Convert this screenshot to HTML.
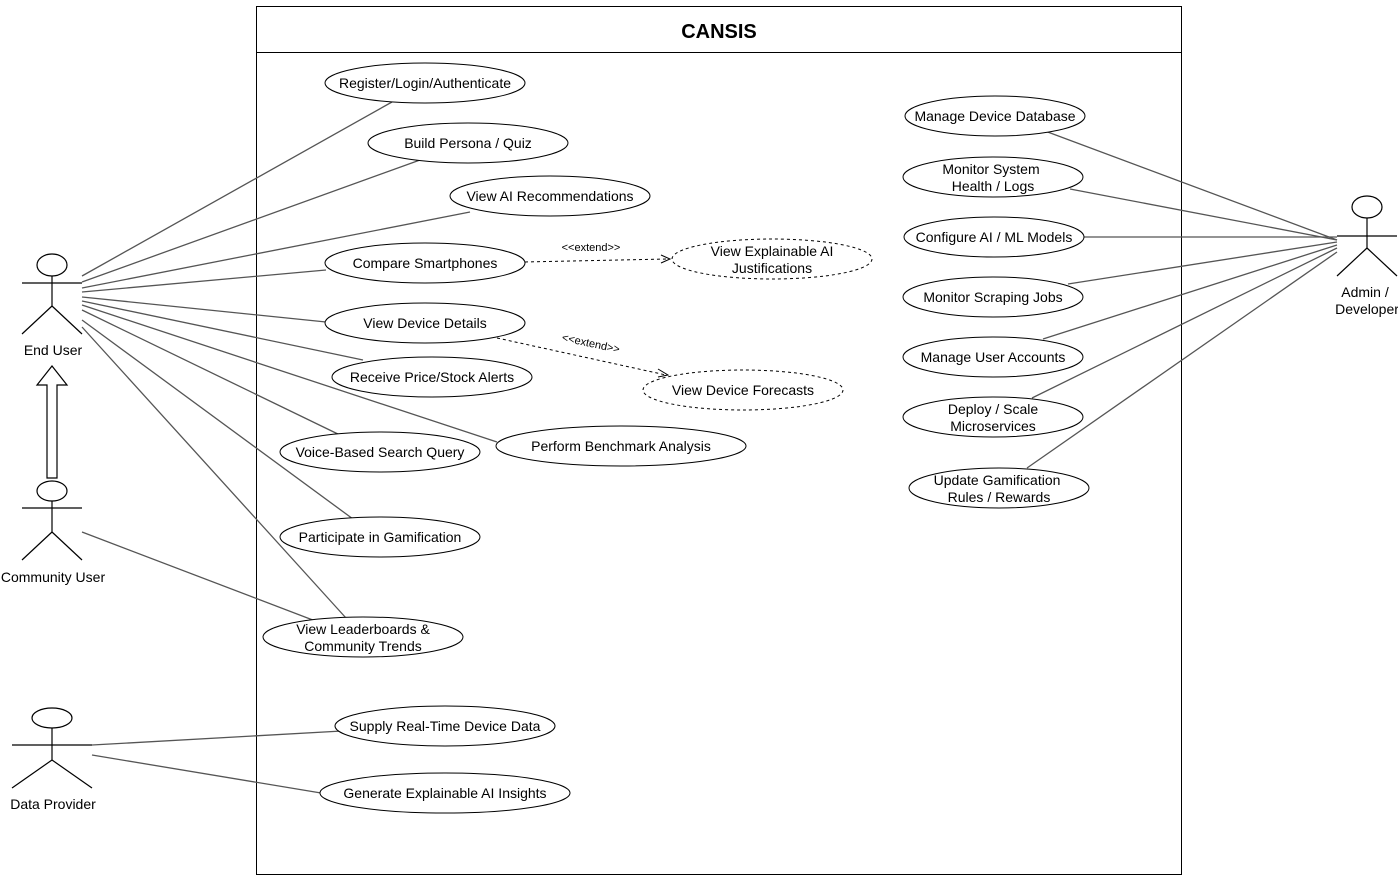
<!DOCTYPE html>
<html><head><meta charset="utf-8"><style>
html,body{margin:0;padding:0;background:#fff;}
svg{display:block;font-family:"Liberation Sans",Arial,sans-serif;}
</style></head><body>
<svg width="1398" height="876" viewBox="0 0 1398 876" xmlns="http://www.w3.org/2000/svg">
<rect x="0" y="0" width="1398" height="876" fill="#fff"/>
<rect x="256.5" y="6.5" width="925" height="868" fill="#fff" stroke="#000" stroke-width="1"/>
<line x1="256" y1="52.5" x2="1181" y2="52.5" stroke="#000"/>
<text x="719" y="38" font-size="20" font-weight="bold" text-anchor="middle">CANSIS</text>

<g stroke="#555" stroke-width="1.3" fill="none">
<line x1="82" y1="276" x2="392" y2="102"/>
<line x1="82" y1="282" x2="420" y2="160"/>
<line x1="82" y1="288" x2="470" y2="212"/>
<line x1="82" y1="292" x2="326" y2="270"/>
<line x1="82" y1="297" x2="326" y2="322"/>
<line x1="82" y1="301" x2="363" y2="360"/>
<line x1="82" y1="305" x2="497" y2="442"/>
<line x1="82" y1="310" x2="342" y2="436"/>
<line x1="82" y1="320" x2="353" y2="519"/>
<line x1="82" y1="327" x2="346" y2="618"/>
<line x1="82" y1="532" x2="318" y2="622"/>
<line x1="92" y1="745" x2="342" y2="731"/>
<line x1="92" y1="755" x2="321" y2="793"/>
<line x1="1337" y1="240" x2="1045" y2="131"/>
<line x1="1337" y1="240" x2="1070" y2="189"/>
<line x1="1337" y1="237" x2="1083" y2="237"/>
<line x1="1337" y1="242" x2="1068" y2="284"/>
<line x1="1337" y1="245" x2="1043" y2="339"/>
<line x1="1337" y1="248" x2="1032" y2="398"/>
<line x1="1337" y1="252" x2="1027" y2="468"/>
</g>

<g stroke="#000" stroke-width="1" fill="none" stroke-dasharray="3,3">
<line x1="525" y1="262" x2="668" y2="259"/>
<line x1="497" y1="338" x2="666" y2="375"/>
</g>
<g stroke="#000" fill="none" stroke-width="1">
<polyline points="661,255 670,259 661,263"/>
<polyline points="658,369 668,375 658,377"/>
</g>
<text x="591" y="251" font-size="11" text-anchor="middle">&lt;&lt;extend&gt;&gt;</text>
<text x="591" y="347" font-size="11" text-anchor="middle" transform="rotate(12 591 343)">&lt;&lt;extend&gt;&gt;</text>

<g stroke="#000" stroke-width="1" fill="#fff" font-size="14">
<ellipse cx="425" cy="83" rx="100" ry="20"/>
<ellipse cx="468" cy="143" rx="100" ry="20"/>
<ellipse cx="550" cy="196" rx="100" ry="20"/>
<ellipse cx="425" cy="263" rx="100" ry="20"/>
<ellipse cx="425" cy="323" rx="100" ry="20"/>
<ellipse cx="432" cy="377" rx="100" ry="20"/>
<ellipse cx="380" cy="452" rx="100" ry="20"/>
<ellipse cx="621" cy="446" rx="125" ry="20"/>
<ellipse cx="380" cy="537" rx="100" ry="20"/>
<ellipse cx="363" cy="637" rx="100" ry="20"/>
<ellipse cx="445" cy="726" rx="110" ry="20"/>
<ellipse cx="445" cy="793" rx="125" ry="20"/>
<ellipse cx="995" cy="116" rx="90" ry="20"/>
<ellipse cx="993" cy="177" rx="90" ry="20"/>
<ellipse cx="994" cy="237" rx="90" ry="20"/>
<ellipse cx="993" cy="297" rx="90" ry="20"/>
<ellipse cx="993" cy="357" rx="90" ry="20"/>
<ellipse cx="993" cy="417" rx="90" ry="20"/>
<ellipse cx="999" cy="488" rx="90" ry="20"/>
</g>
<g stroke="#000" stroke-width="1" fill="#fff" stroke-dasharray="3,3">
<ellipse cx="772" cy="259" rx="100" ry="20"/>
<ellipse cx="743" cy="390" rx="100" ry="20"/>
</g>

<g font-size="14" text-anchor="middle" fill="#000">
<text x="425" y="88">Register/Login/Authenticate</text>
<text x="468" y="148">Build Persona / Quiz</text>
<text x="550" y="201">View AI Recommendations</text>
<text x="425" y="268">Compare Smartphones</text>
<text x="425" y="328">View Device Details</text>
<text x="432" y="382">Receive Price/Stock Alerts</text>
<text x="380" y="457">Voice-Based Search Query</text>
<text x="621" y="451">Perform Benchmark Analysis</text>
<text x="380" y="542">Participate in Gamification</text>
<text x="363" y="634">View Leaderboards &amp;</text>
<text x="363" y="651">Community Trends</text>
<text x="445" y="731">Supply Real-Time Device Data</text>
<text x="445" y="798">Generate Explainable AI Insights</text>
<text x="772" y="256">View Explainable AI</text>
<text x="772" y="273">Justifications</text>
<text x="743" y="395">View Device Forecasts</text>
<text x="995" y="121">Manage Device Database</text>
<text x="991" y="174">Monitor System</text>
<text x="993" y="191">Health / Logs</text>
<text x="994" y="242">Configure AI / ML Models</text>
<text x="993" y="302">Monitor Scraping Jobs</text>
<text x="993" y="362">Manage User Accounts</text>
<text x="993" y="414">Deploy / Scale</text>
<text x="993" y="431">Microservices</text>
<text x="997" y="485">Update Gamification</text>
<text x="999" y="502">Rules / Rewards</text>
</g>

<g stroke="#000" stroke-width="1.2" fill="#fff">
<!-- End User -->
<ellipse cx="52" cy="265" rx="15" ry="11"/>
<line x1="52" y1="276" x2="52" y2="306"/>
<line x1="22" y1="283" x2="82" y2="283"/>
<line x1="52" y1="306" x2="22" y2="334"/>
<line x1="52" y1="306" x2="82" y2="334"/>
<!-- Community User -->
<ellipse cx="52" cy="491" rx="15" ry="10"/>
<line x1="52" y1="501" x2="52" y2="532"/>
<line x1="22" y1="508" x2="82" y2="508"/>
<line x1="52" y1="532" x2="22" y2="560"/>
<line x1="52" y1="532" x2="82" y2="560"/>
<!-- Data Provider -->
<ellipse cx="52" cy="718" rx="20" ry="10"/>
<line x1="52" y1="728" x2="52" y2="760"/>
<line x1="12" y1="745" x2="92" y2="745"/>
<line x1="52" y1="760" x2="12" y2="788"/>
<line x1="52" y1="760" x2="92" y2="788"/>
<!-- Admin -->
<ellipse cx="1367" cy="207" rx="15" ry="11"/>
<line x1="1367" y1="218" x2="1367" y2="248"/>
<line x1="1337" y1="236" x2="1397" y2="236"/>
<line x1="1367" y1="248" x2="1337" y2="276"/>
<line x1="1367" y1="248" x2="1397" y2="276"/>
<!-- generalization arrow -->
<polygon points="47,478 57,478 57,385 67,385 52,366 37,385 47,385"/>
</g>

<g font-size="14" text-anchor="middle" fill="#000">
<text x="53" y="355">End User</text>
<text x="53" y="582">Community User</text>
<text x="53" y="809">Data Provider</text>
<text x="1365" y="297">Admin /</text>
<text x="1367" y="314">Developer</text>
</g>
</svg>
</body></html>
